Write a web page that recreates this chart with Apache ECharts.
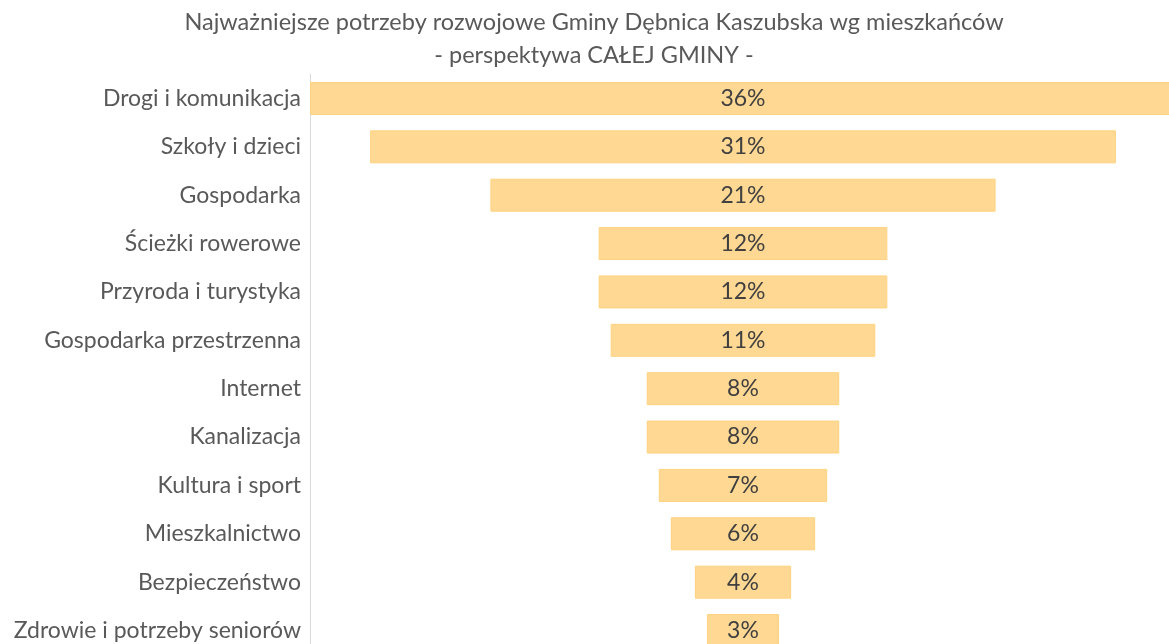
<!DOCTYPE html>
<html>
<head>
<meta charset="utf-8">
<script src="https://cdn.jsdelivr.net/npm/echarts@6/dist/echarts.min.js"></script>
<style>
  html, body { margin: 0; padding: 0; background: #fff; overflow: hidden; }
  #chart { width: 1180px; height: 660px; }
</style>
</head>
<body>
<div id="chart"></div>
<script>
// Needs named by residents (share of answers, %)
const categories = [
  'Drogi i komunikacja',
  'Szkoły i dzieci',
  'Gospodarka',
  'Ścieżki rowerowe',
  'Przyroda i turystyka',
  'Gospodarka przestrzenna',
  'Internet',
  'Kanalizacja',
  'Kultura i sport',
  'Mieszkalnictwo',
  'Bezpieczeństwo',
  'Zdrowie i potrzeby seniorów'
];
const shares = [36, 31, 21, 12, 12, 11, 8, 8, 7, 6, 4, 3];

const maxShare = Math.max(...shares);
// invisible spacer that centres each bar around the widest one
const spacer = shares.map(v => (maxShare - v) / 2);

const FONT = 'Lato, "Open Sans", sans-serif';

const chart = echarts.init(document.getElementById('chart'), null, { renderer: 'canvas' });
chart.setOption({
  animation: false,
  title: {
    text: 'Najważniejsze potrzeby rozwojowe Gminy Dębnica Kaszubska wg mieszkańców\n- perspektywa CAŁEJ GMINY -',
    left: 594,
    textAlign: 'center',
    top: 6,
    padding: 0,
    textStyle: {
      fontFamily: FONT,
      fontSize: 23.5,
      fontWeight: 'normal',
      color: '#595959',
      lineHeight: 33
    }
  },
  // the plot runs slightly past the visible page on the right and bottom
  grid: { left: 310, right: 4, top: 74.3, bottom: 5.3, containLabel: false },
  xAxis: {
    type: 'value',
    min: 0,
    max: maxShare,
    show: false
  },
  yAxis: {
    type: 'category',
    inverse: true,
    data: categories,
    axisLine: { show: true, lineStyle: { color: '#d9d9d9', width: 1 } },
    axisTick: { show: false },
    axisLabel: {
      margin: 9,
      fontFamily: FONT,
      fontSize: 23,
      color: '#595959'
    }
  },
  series: [
    {
      type: 'bar',
      stack: 'funnel',
      data: spacer,
      barWidth: 33,
      itemStyle: { color: 'rgba(0,0,0,0)' },
      silent: true
    },
    {
      type: 'bar',
      stack: 'funnel',
      data: shares,
      barWidth: 33,
      itemStyle: { color: '#FFD993', borderColor: '#FFD27F', borderWidth: 1 },
      label: {
        show: true,
        position: 'inside',
        formatter: p => p.value + '%',
        fontFamily: FONT,
        fontSize: 23,
        color: '#404040'
      }
    }
  ]
});
</script>
</body>
</html>
